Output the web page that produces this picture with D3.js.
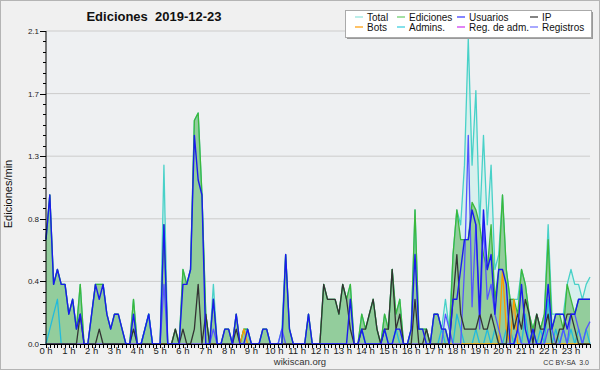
<!DOCTYPE html>
<html>
<head>
<meta charset="utf-8">
<script src="https://d3js.org/d3.v7.min.js"></script>
<style>
  body { margin: 0; background: #f0f0f0; }
  svg { display: block; font-family: "Liberation Sans", Arial, sans-serif; }
</style>
</head>
<body>
<script>
// 10-minute bins, 144 per day (12 values per row = 2 hours)
var total = [
  0.7,1.0,0.4,0.5,0.4,0.4,0.2,0.3,0.1,0.4,0,0,
  0.2,0.4,0.4,0.4,0.2,0.1,0.2,0.2,0.1,0,0,0.3,
  0,0,0.1,0.2,0,0,0,1.2,0,0,0.1,0,
  0.5,0.4,0.5,1.5,1.55,1.0,0.2,0,0.4,0,0,0.1,
  0.1,0,0.2,0,0.1,0.1,0,0,0,0.1,0.1,0,
  0,0,0.1,0.6,0.1,0,0,0,0,0.2,0,0,
  0,0.4,0.3,0.3,0.3,0.2,0.4,0.3,0.4,0,0,0.2,
  0.1,0.2,0.3,0.1,0,0.2,0.1,0.5,0.2,0.3,0,0,
  0.1,0.9,0.1,0.1,0.1,0,0.2,0.2,0.1,0.3,0.1,0.6,
  0.9,0.8,1.2,2.05,1.2,1.7,0.8,1.4,0.8,1.2,0.5,0.6,
  1.0,0.5,0.3,0.3,0.3,0.5,0.4,0.2,0.1,0.2,0.1,0.2,
  0.8,0.2,0.2,0.2,0.2,0.4,0.5,0.4,0.4,0.3,0.4,0.45
];
var edits = [
  0.7,1.0,0.4,0.5,0.4,0.4,0.2,0.3,0.1,0.4,0,0,
  0.2,0.4,0.4,0.4,0.2,0.1,0.2,0.2,0.1,0,0,0.3,
  0,0,0.1,0.2,0,0,0,0.8,0,0,0.1,0,
  0.5,0.4,0.5,1.5,1.55,1.0,0.2,0,0.3,0,0,0.1,
  0.1,0,0.2,0,0.1,0.1,0,0,0,0.1,0.1,0,
  0,0,0,0.6,0.1,0,0,0,0,0.2,0,0,
  0,0.4,0.3,0.3,0.3,0.2,0.4,0.3,0.4,0,0,0.2,
  0.1,0.2,0.3,0.1,0,0.2,0.1,0.5,0.2,0.3,0,0,
  0.1,0.9,0.1,0.1,0.1,0,0.2,0.2,0.1,0.1,0,0.6,
  0.9,0.7,0.7,0.7,0.95,0.9,0.8,0.6,0.5,0.8,0.3,0.5,
  1.0,0.5,0.3,0.3,0.2,0.5,0.4,0.2,0.1,0.2,0.1,0.2,
  0.7,0.1,0.2,0.2,0.1,0.4,0.3,0.2,0.3,0.3,0.3,0.3
];
var users = [
  0.7,1.0,0.4,0.5,0.4,0.4,0.2,0.3,0.1,0.2,0,0,
  0.2,0.4,0.3,0.4,0.2,0.1,0.2,0.2,0.1,0,0,0.2,
  0,0,0.1,0.2,0,0,0,0.8,0,0,0,0,
  0.4,0.4,0.5,1.4,1.1,1.0,0,0,0.3,0,0,0.1,
  0.1,0,0.2,0,0,0.1,0,0,0,0.1,0.1,0,
  0,0,0,0.6,0.1,0,0,0,0,0.2,0,0,
  0,0,0,0,0,0,0,0,0.3,0,0,0.1,
  0,0,0,0,0,0.1,0,0,0.1,0.1,0,0,
  0.1,0.6,0.1,0.1,0,0,0.2,0.2,0.1,0.1,0,0.3,
  0.3,0.5,0.7,0.7,0.9,0.8,0.2,0.9,0.5,0.6,0.2,0.5,
  0.5,0.4,0,0,0.1,0.4,0.1,0,0.1,0,0,0.1,
  0.4,0.1,0.2,0.2,0.2,0.1,0.2,0.2,0.3,0.3,0.3,0.3
];
var ip = [
  0,0,0,0,0,0,0,0,0,0.2,0,0,
  0,0,0.1,0,0,0,0,0,0,0,0,0.1,
  0,0,0,0,0,0,0,0,0,0,0.1,0,
  0.1,0,0,0.1,0.4,0,0.2,0,0,0,0,0,
  0,0,0.1,0,0,0,0,0,0,0,0,0,
  0,0,0,0,0,0,0,0,0,0,0,0,
  0,0.4,0.3,0.3,0.3,0.2,0.4,0.3,0.1,0,0,0.1,
  0.1,0.2,0.3,0.1,0,0.1,0.1,0.5,0.1,0.2,0,0,
  0,0.3,0,0,0.1,0,0,0,0,0,0,0.3,
  0.6,0.2,0.1,0.1,0.1,0.1,0.2,0.1,0.1,0.2,0.1,0,
  0,0,0.3,0.1,0.2,0.1,0.3,0.2,0,0.2,0.1,0.1,
  0.2,0,0,0.1,0.1,0.2,0.2,0.1,0,0,0,0
];
var bots = [
  0,0,0,0,0,0,0,0,0,0,0,0,
  0,0,0,0,0,0,0,0,0,0,0,0,
  0,0,0,0,0,0,0,0,0,0,0,0,
  0,0,0,0,0,0,0,0,0,0,0,0,
  0,0,0,0,0.1,0,0,0,0,0,0,0,
  0,0,0,0,0,0,0,0,0,0,0,0,
  0,0,0,0,0,0,0,0,0,0,0,0,
  0,0,0,0,0,0,0,0,0,0,0,0,
  0,0,0,0,0,0,0,0,0,0,0,0,
  0,0,0,0,0,0,0,0,0,0,0,0,
  0.5,0.1,0,0.3,0,0,0,0,0,0,0,0,
  0,0,0,0,0,0,0,0,0,0,0,0
];
var admins = [
  0,0.1,0.2,0.3,0,0,0,0,0,0,0,0,
  0,0,0,0,0,0,0,0,0,0,0,0.1,
  0,0,0.1,0.2,0,0,0,0,0,0,0,0,
  0,0,0,0,0,0,0,0,0,0,0,0,
  0,0,0,0,0,0,0,0,0,0,0,0,
  0,0,0,0,0,0,0,0,0,0,0,0,
  0,0,0,0,0,0,0,0,0,0,0,0.1,
  0,0,0,0,0,0.1,0,0,0.1,0,0,0,
  0,0,0,0,0,0,0,0,0.1,0,0,0,
  0.2,0.1,0,0,0,0.1,0,0,0.1,0,0.1,0,
  0,0.1,0.1,0,0.1,0,0.2,0,0.1,0,0.1,0,
  0.3,0,0.1,0,0.1,0,0.1,0,0.1,0,0.1,0
];
var logs = [
  0,0,0,0,0,0,0,0,0,0,0,0,
  0,0,0,0,0,0,0,0,0,0,0,0,
  0,0,0,0,0,0,0,0.4,0,0,0,0,
  0,0,0,0,0,0,0,0,0.1,0,0,0,
  0,0,0,0,0,0,0,0,0,0,0,0,
  0,0,0.1,0,0,0,0,0,0,0,0,0,
  0,0,0,0,0,0,0,0,0,0,0,0,
  0,0,0,0,0,0,0,0,0,0,0,0,
  0,0,0,0,0,0,0,0,0,0.2,0.1,0,
  0,0,0.5,1.4,0.25,0.8,0.1,0.8,0.3,0.4,0.2,0.1,
  0,0,0,0,0.1,0,0,0,0,0,0,0,
  0.1,0.1,0,0,0.1,0,0.2,0.2,0.1,0,0.1,0.15
];
var hours = d3.range(24);
var yTicks = [0, 0.42, 0.84, 1.26, 1.68, 2.1];

var legendNames = ['Total', 'Ediciones', 'Usuarios', 'IP', 'Bots', 'Admins.', 'Reg. de adm.', 'Registros'];
var legendColors = ['#8fe3dc', '#66cc66', '#3333ff', '#333333', '#ff9900', '#33ccdd', '#cc33ee', '#6f6fff'];

var svg = d3.select('body').append('svg')
    .attr('width', 600)
    .attr('height', 370);

svg.append('rect')
    .attr('x', 0.5).attr('y', 0.5)
    .attr('width', 599).attr('height', 369)
    .attr('fill', '#f0f0f0')
    .attr('stroke', '#b4b4b4');

var x = d3.scaleLinear().domain([0, 143]).range([46, 590]);
var y = d3.scaleLinear().domain([0, 2.1]).range([344, 31]);

// plot background
svg.append('rect')
    .attr('x', 46).attr('y', 31)
    .attr('width', 544).attr('height', 313)
    .attr('fill', '#eef0f2');

// grid
svg.selectAll('.grid').data(yTicks.slice(1)).enter().append('line')
    .attr('x1', 46).attr('x2', 590)
    .attr('y1', function(d) { return y(d); })
    .attr('y2', function(d) { return y(d); })
    .attr('stroke', '#cccccc')
    .attr('stroke-width', 1);

var line = function(arr) {
    return d3.line()
        .x(function(d, i) { return x(i); })
        .y(function(d) { return y(d); })(arr);
};
var area = function(arr) {
    return d3.area()
        .x(function(d, i) { return x(i); })
        .y0(y(0))
        .y1(function(d) { return y(d); })(arr);
};

// areas
svg.append('path').attr('d', area(total))
    .attr('fill', '#c8f0ea').attr('fill-opacity', 0.6);
svg.append('path').attr('d', area(edits))
    .attr('fill', '#62b462').attr('fill-opacity', 0.58);

// lines
var drawLine = function(arr, color, w) {
    svg.append('path').attr('d', line(arr))
        .attr('fill', 'none')
        .attr('stroke', color)
        .attr('stroke-width', w)
        .attr('stroke-linejoin', 'round');
};
drawLine(total, '#48d1c8', 1.3);
drawLine(edits, '#3cb83c', 1.3);
drawLine(admins, '#22bbdd', 1.3);
drawLine(bots, '#ff9900', 1.3);
drawLine(logs, '#5555ff', 1.3);
drawLine(ip, '#333333', 1.3);
drawLine(users, '#1a1aee', 1.4);

// axes
svg.append('line').attr('x1', 46).attr('x2', 46).attr('y1', 31).attr('y2', 344)
    .attr('stroke', '#000');
svg.append('line').attr('x1', 46).attr('x2', 590).attr('y1', 344.5).attr('y2', 344.5)
    .attr('stroke', '#000');

// y ticks
svg.selectAll('.ymin').data(d3.range(0, 31)).enter().append('line')
    .attr('x1', 43).attr('x2', 46)
    .attr('y1', function(d) { return Math.round(y(d * 0.07)) + 0.5; })
    .attr('y2', function(d) { return Math.round(y(d * 0.07)) + 0.5; })
    .attr('stroke', '#000');
svg.selectAll('.ymaj').data(yTicks).enter().append('line')
    .attr('x1', 40).attr('x2', 46)
    .attr('y1', function(d) { return Math.round(y(d)) + 0.5; })
    .attr('y2', function(d) { return Math.round(y(d)) + 0.5; })
    .attr('stroke', '#000');
svg.selectAll('.ylab').data(yTicks).enter().append('text')
    .attr('x', 39)
    .attr('y', function(d) { return y(d) + 3; })
    .attr('text-anchor', 'end')
    .attr('font-size', 8)
    .attr('fill', '#222')
    .text(function(d) { return d3.format('.1f')(d); });

// x ticks (every 10 minutes)
svg.selectAll('.xt').data(d3.range(0, 144)).enter().append('line')
    .attr('x1', function(d) { return Math.round(x(d)) + 0.5; })
    .attr('x2', function(d) { return Math.round(x(d)) + 0.5; })
    .attr('y1', 344).attr('y2', 348)
    .attr('stroke', '#000');
svg.selectAll('.xlab').data(hours).enter().append('text')
    .attr('x', function(d) { return x(d * 6); })
    .attr('y', 354)
    .attr('text-anchor', 'middle')
    .attr('font-size', 9.5)
    .attr('fill', '#222')
    .text(function(d) { return d + ' h'; });

// titles
svg.append('text')
    .attr('x', 154).attr('y', 21)
    .attr('text-anchor', 'middle')
    .attr('font-size', 13)
    .attr('font-weight', 'bold')
    .attr('fill', '#111')
    .style('white-space', 'pre')
    .text('Ediciones  2019-12-23');
svg.append('text')
    .attr('transform', 'translate(12,194) rotate(-90)')
    .attr('text-anchor', 'middle')
    .attr('font-size', 11)
    .attr('fill', '#111')
    .text('Ediciones/min');
svg.append('text')
    .attr('x', 300).attr('y', 365)
    .attr('text-anchor', 'middle')
    .attr('font-size', 9.5)
    .attr('fill', '#333')
    .text('wikiscan.org');
svg.append('text')
    .attr('x', 589).attr('y', 365)
    .attr('text-anchor', 'end')
    .attr('font-size', 7)
    .attr('fill', '#333')
    .style('white-space', 'pre')
    .text('CC BY-SA  3.0');

// legend
svg.append('rect')
    .attr('x', 347).attr('y', 12)
    .attr('width', 246).attr('height', 27)
    .attr('fill', '#999');
svg.append('rect')
    .attr('x', 345.5).attr('y', 10.5)
    .attr('width', 246).attr('height', 27)
    .attr('fill', '#fff')
    .attr('stroke', '#aaa');
var colX = [355, 397, 457, 530];
var rowY = [20, 30];
var leg = svg.selectAll('.leg').data(legendNames).enter().append('g')
    .attr('transform', function(d, i) {
        return 'translate(' + colX[i % 4] + ',' + rowY[Math.floor(i / 4)] + ')';
    });
leg.append('line')
    .attr('x1', 0).attr('x2', 8)
    .attr('y1', -3).attr('y2', -3)
    .attr('stroke', function(d, i) { return legendColors[i]; })
    .attr('stroke-width', 1.2);
leg.append('text')
    .attr('x', 12).attr('y', 0.5)
    .attr('font-size', 10)
    .attr('fill', '#111')
    .text(function(d) { return d; });
</script>
</body>
</html>
